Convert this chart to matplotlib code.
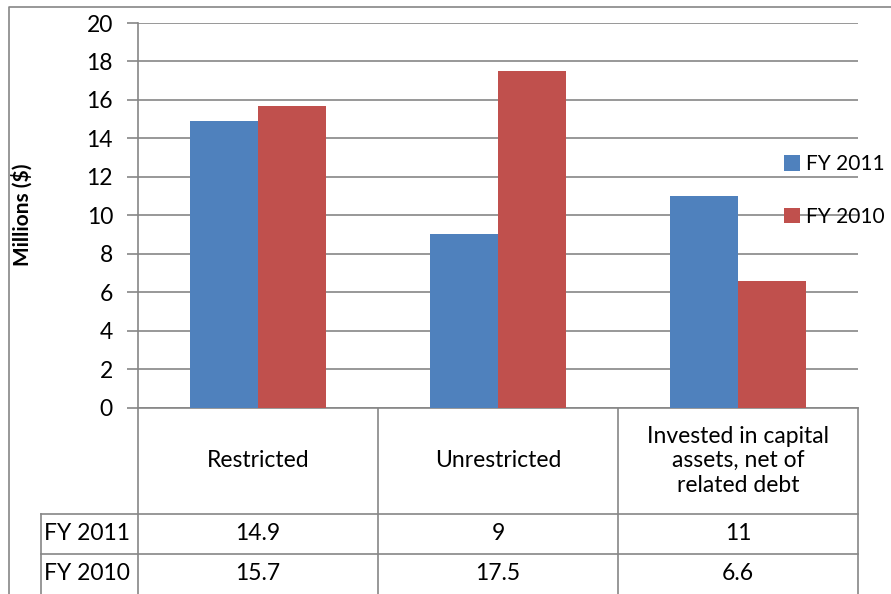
import matplotlib
matplotlib.use("Agg")
import matplotlib.pyplot as plt
import numpy as np

plt.rcParams['font.family'] = ['Lato', 'DejaVu Sans']

categories = ["Restricted", "Unrestricted", "Invested in capital\nassets, net of\nrelated debt"]
series_names = ["FY 2011", "FY 2010"]
fy2011 = [14.9, 9, 11]
fy2010 = [15.7, 17.5, 6.6]
table_text = [["14.9", "9", "11"], ["15.7", "17.5", "6.6"]]
yticks = [0, 2, 4, 6, 8, 10, 12, 14, 16, 18, 20]

blue = "#4F81BD"
red = "#C0504D"
grid_c = "#868686"
fs = 16.5

W, H = 891, 594
fig = plt.figure(figsize=(W / 100, H / 100), dpi=100)

# pixel helpers
def fx(px):
    return px / W

def fy(py):
    return 1 - py / H

left, right, top, bottom = 138, 858, 23, 407.5
ax = fig.add_axes([fx(left), fy(bottom), fx(right) - fx(left), fy(top) - fy(bottom)])

x = np.arange(len(categories))
bw = 0.285
ax.bar(x - bw / 2, fy2011, bw, color=blue, label=series_names[0], zorder=3)
ax.bar(x + bw / 2, fy2010, bw, color=red, label=series_names[1], zorder=3)

ax.set_xlim(-0.5, len(categories) - 0.5)
ax.set_ylim(0, 20)
ax.set_yticks(yticks)
ax.set_xticks([])
ax.tick_params(axis='y', labelsize=fs, length=8, color=grid_c, width=1.2, pad=10)
ax.yaxis.grid(True, color=grid_c, linewidth=1.2, zorder=0)
for s in ["top", "right"]:
    ax.spines[s].set_visible(False)
ax.spines["left"].set_color(grid_c)
ax.spines["bottom"].set_color(grid_c)
ax.spines["left"].set_linewidth(1.2)
ax.spines["bottom"].set_linewidth(1.2)

fig.text(fx(22), fy(215), "Millions ($)", rotation=90, fontsize=15,
         fontweight="bold", ha="center", va="center")

leg = ax.legend(loc="upper left", bbox_to_anchor=(fx(778), fy(148)),
                bbox_transform=fig.transFigure, frameon=False, fontsize=15,
                handlelength=0.75, handleheight=0.75, handletextpad=0.3,
                labelspacing=1.55, borderaxespad=0, borderpad=0.3)

# overlay for data table and outer border
ov = fig.add_axes([0, 0, 1, 1], zorder=-1)
ov.set_xlim(0, W)
ov.set_ylim(H, 0)
ov.axis("off")

lc = dict(color=grid_c, linewidth=1.2)
ov.plot([9, 9, W + 5], [H + 5, 7, 7], **lc)

label_left = 41
col_w = (right - left) / len(categories)
row_top = [514, 554]
row_h = 40
for i in range(len(categories) + 1):
    cx = left + i * col_w
    ov.plot([cx, cx], [bottom, H + 5], **lc)
ov.plot([label_left, label_left], [row_top[0], H + 5], **lc)
for r in row_top:
    ov.plot([label_left, right], [r, r], **lc)

for i, cat in enumerate(categories):
    ov.text(left + (i + 0.5) * col_w, (bottom + row_top[0]) / 2, cat,
            ha="center", va="center", fontsize=fs, linespacing=1.2)
for r, name in enumerate(series_names):
    ymid = row_top[r] + row_h / 2
    ov.text(label_left + 3, ymid, name, ha="left", va="center", fontsize=fs)
    for i, t in enumerate(table_text[r]):
        ov.text(left + (i + 0.5) * col_w, ymid, t, ha="center", va="center", fontsize=fs)

fig.savefig("out.png", dpi=100)
